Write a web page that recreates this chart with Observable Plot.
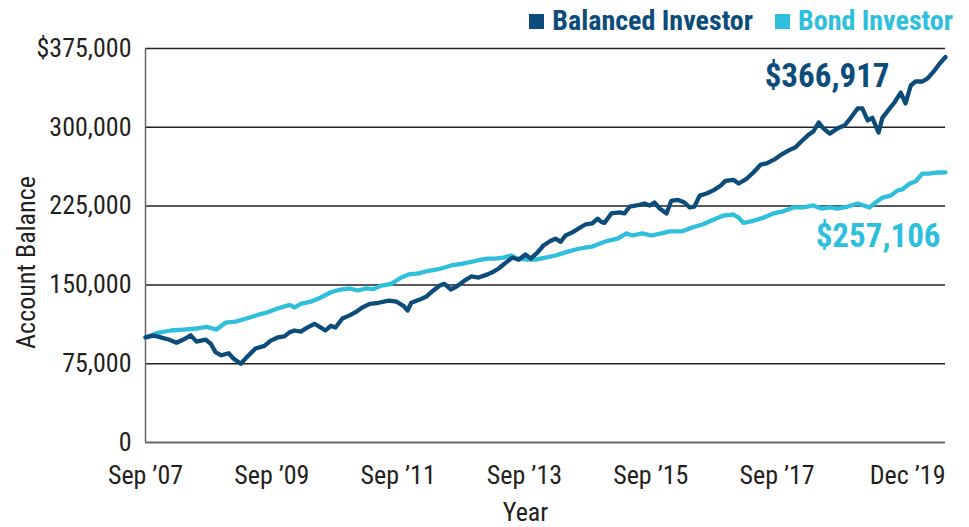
<!DOCTYPE html>
<html><head><meta charset="utf-8">
<script src="https://cdn.jsdelivr.net/npm/d3@7"></script>
<script src="https://cdn.jsdelivr.net/npm/@observablehq/plot@0.6"></script>
<style>
body{margin:0;background:#fff;}
#wrap{position:relative;width:969px;height:527px;overflow:hidden;font-family:"Roboto Condensed","DejaVu Sans Condensed",sans-serif;}
#legend{position:relative;z-index:1;height:24px;box-sizing:border-box;padding-top:6px;display:flex;justify-content:flex-end;align-items:flex-start;padding-right:16px;font-weight:bold;font-size:28px;gap:22px;line-height:30px;}
#legend span.k{display:inline-block;width:15px;height:15px;margin-right:8px;vertical-align:1px;}
</style></head><body>
<div id="wrap"><div id="legend"></div><div id="chart"></div></div>
<script>
const balancedMonths = [0,1.5,2.9,4.4,5.9,7.2,8.6,9.7,11.4,12.4,13.3,14.4,15.8,16.7,18.1,19.2,20.9,22.6,23.8,25.1,26.4,27.4,28.3,29.5,30.8,32.1,33.1,34.2,35.2,36.1,37.4,38.8,39.9,41.2,42.6,44.3,46.2,47.7,49.0,49.8,50.5,52.1,53.4,54.7,55.9,56.8,58.0,59.1,60.6,61.9,63.3,65.0,65.9,67.1,68.4,69.7,70.9,72.2,73.2,74.5,75.6,77.0,77.9,78.9,79.8,81.1,82.3,83.6,84.9,85.9,86.6,87.2,88.5,90.1,91.0,92.0,93.3,94.8,95.8,96.7,97.7,99.0,99.9,101.1,102.4,103.4,104.3,105.3,106.6,107.9,109.3,110.2,111.7,112.7,114.2,115.5,116.9,118.0,119.7,120.8,122.2,123.5,124.6,126.0,126.9,127.9,128.8,130.0,131.5,132.8,134.0,135.3,136.2,137.2,138.1,139.3,140.0,141.4,142.3,143.5,144.4,145.4,146.3,147.6,148.6,149.9,150.9,152];
const balancedValues = [100000,101800,100000,98000,95000,98000,102000,96000,98000,94000,86000,83000,85000,80000,75000,81000,89500,92000,97000,100000,101000,105000,106600,105600,109500,113000,110000,106600,111000,109500,118000,121000,124000,128500,132000,133000,135000,134000,130000,125600,133000,136000,139000,144700,149400,151000,145600,148500,154000,158000,157000,160000,162000,165600,171000,176000,174000,179000,175000,181000,187500,192000,194000,191000,197000,200000,203700,207500,208500,213000,210000,209000,218000,219000,218000,224600,225600,227500,225600,228400,222700,218000,230000,231000,228400,223700,224600,235000,237000,240000,244600,249000,250000,246500,251000,257000,264600,265600,270000,274000,278000,281000,286500,293000,296000,304600,299000,294000,299000,301700,309000,318000,318000,306500,309000,295000,309000,318000,323600,333000,322700,339800,343600,343600,346500,354000,360700,366917];
const bondMonths = [0,2.1,4.8,7.2,9.7,11.6,13.5,15.2,17.1,19.2,21.7,23.2,25.1,27.4,28.3,29.5,31.4,33.3,35.2,37.1,38.8,40.3,41.8,43.3,44.8,46.7,48.6,50.0,51.9,53.4,54.7,56.2,58.1,60.0,61.9,63.8,65.0,66.5,68.0,69.4,70.7,72.6,74.1,76.0,77.9,79.8,81.7,83.6,84.9,86.1,87.8,89.7,91.4,92.5,94.4,96.1,98.0,99.6,102.0,103.9,105.8,107.9,109.8,111.7,112.7,113.6,115.5,117.4,119.3,121.2,123.1,125.0,126.9,128.4,130.0,131.5,133.4,135.3,137.6,138.7,140.0,141.6,142.9,143.8,145.2,146.3,147.6,148.9,150.5,152];
const bondValues = [100000,104000,106600,107500,108500,110000,107500,114000,115000,118000,122000,124000,127500,131000,128500,132000,134000,138000,143000,145600,146600,144700,146600,146000,149400,151000,157000,160000,161000,163000,164000,165600,168500,170000,172000,174000,175000,175000,176000,178000,175000,174000,174000,176000,178000,181000,183700,185600,186500,189000,192000,194000,199000,197000,199000,197000,199000,201000,201000,204600,207500,212000,216000,217000,214000,209000,211000,214000,218000,220000,223700,223700,225600,222700,223700,222700,224600,227500,223700,228400,233000,235000,240000,240800,246500,248400,256000,256000,257000,257106];
const xTickMonths = [0,24,48,72,96,120];
const xTickLabels = ["Sep \u201907","Sep \u201909","Sep \u201911","Sep \u201913","Sep \u201915","Sep \u201917"];
const xEndMonth = 152;
const xEndLabel = "Dec \u201919";
const yTicks = [0,75000,150000,225000,300000,375000];
const seriesNames = ["Balanced Investor","Bond Investor"];
const seriesColors = ["#0b4c7a","#2ebfdc"];

const balanced = balancedMonths.map((m,i)=>({m, v: balancedValues[i]}));
const bond = bondMonths.map((m,i)=>({m, v: bondValues[i]}));
const lastB = balanced[balanced.length-1];
const lastD = bond[bond.length-1];

const FONT = '"Roboto Condensed","DejaVu Sans Condensed",sans-serif';
const fmtY = (d)=> d===375000 ? "$375,000" : d3.format(",")(d);
const FS = 26;

const legend = document.getElementById("legend");
seriesNames.forEach((n,i)=>{
  const s=document.createElement("span");
  s.style.color=seriesColors[i];
  s.innerHTML=`<span class="k" style="background:${seriesColors[i]}"></span>${n}`;
  legend.appendChild(s);
});

const chart = Plot.plot({
  width: 969, height: 503,
  marginLeft: 145, marginRight: 24, marginTop: 24, marginBottom: 85,
  style: {fontFamily: FONT, fontSize: FS + "px", color: "#231f20", background: "#fff"},
  x: {domain: [0, xEndMonth], axis: null},
  y: {domain: [0, 375000], axis: null},
  marks: [
    Plot.ruleY(yTicks.filter(d=>d>0), {stroke: "#222", strokeWidth: 1.5}),
    Plot.ruleY([0], {stroke: "#666", strokeWidth: 2}),
    Plot.ruleX([0], {stroke: "#666", strokeWidth: 1.5}),
    Plot.axisY(yTicks, {tickSize: 0, tickPadding: 14, tickFormat: fmtY, fontSize: FS, label: null}),
    Plot.axisX(xTickMonths, {tickSize: 0, tickPadding: 23, tickFormat: (d,i)=>xTickLabels[i], fontSize: FS, label: null}),
    Plot.axisX([xEndMonth], {tickSize: 0, tickPadding: 23, tickFormat: ()=>xEndLabel, textAnchor: "end", fontSize: FS, label: null}),
    Plot.text(["Account Balance"], {frameAnchor: "left", textAnchor: "middle", dx: -119, dy: 17, rotate: -90, fontSize: FS, fill: "#231f20"}),
    Plot.text(["Year"], {frameAnchor: "bottom", dx: -20, dy: 78, fontSize: FS, fill: "#231f20"}),
    Plot.line(bond, {x: "m", y: "v", stroke: seriesColors[1], strokeWidth: 4.3, strokeLinejoin: "round"}),
    Plot.line(balanced, {x: "m", y: "v", stroke: seriesColors[0], strokeWidth: 4.3, strokeLinejoin: "round"}),
    Plot.text([lastB], {x: "m", y: "v", text: d=>d3.format("$,")(d.v), textAnchor: "end", lineAnchor: "bottom", dx: -56, dy: 30, fontSize: 33, fontWeight: "bold", fill: seriesColors[0]}),
    Plot.text([lastD], {x: "m", y: "v", text: d=>d3.format("$,")(d.v), textAnchor: "end", lineAnchor: "bottom", dx: -5, dy: 75, fontSize: 33, fontWeight: "bold", fill: seriesColors[1]})
  ]
});
document.getElementById("chart").appendChild(chart);
</script></body></html>
